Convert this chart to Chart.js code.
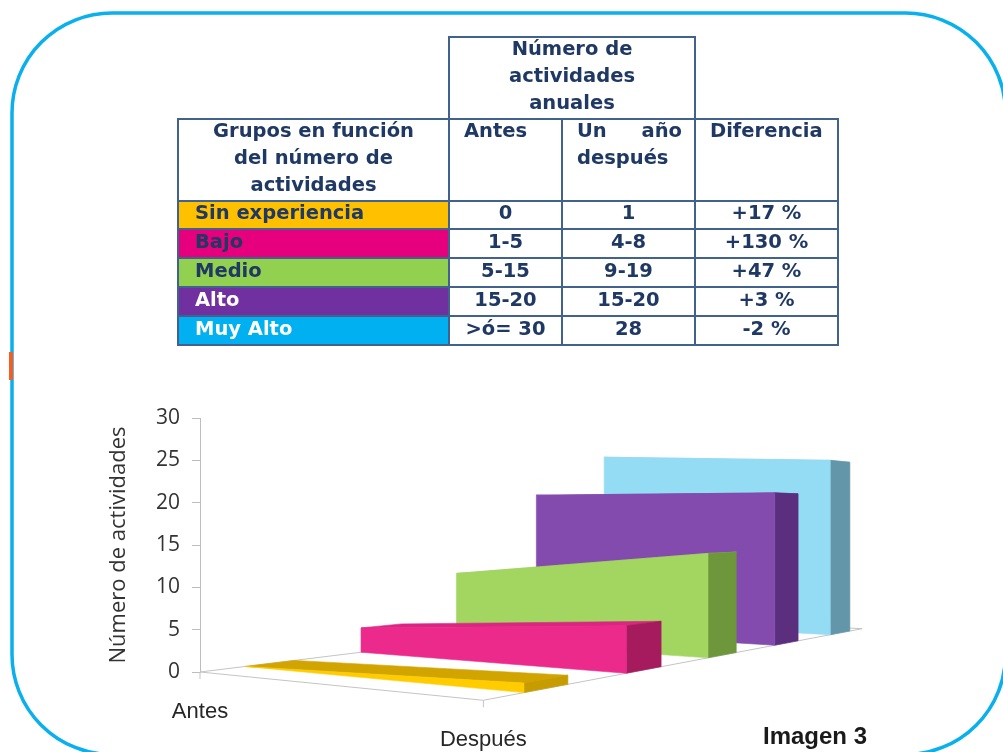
<!DOCTYPE html>
<html>
<head>
<meta charset="utf-8">
<script src="https://cdn.jsdelivr.net/npm/chart.js@4/dist/chart.umd.min.js"></script>
<style>
  html, body { margin:0; padding:0; background:#fff; width:1003px; height:752px; overflow:hidden; }
  #frame { position:absolute; left:0; top:0; overflow:hidden; }
  #mark { position:absolute; left:9px; top:352px; width:4px; height:28px; background:#FF5A1E; }
  #c { position:absolute; left:0; top:0; }
  #tbl { position:absolute; left:177px; top:36px; width:660px; border-collapse:collapse; table-layout:fixed;
         font-family:"DejaVu Sans", sans-serif; font-weight:bold; font-size:19.5px; line-height:27px; color:#1F3864; }
  #tbl td { border:2px solid #41618F; padding:0; }
  #tbl td.blank { border:none; }
  #tbl tr.r0 { height:82px; }
  #tbl tr.r1 { height:82px; }
  #tbl td.hd0 { text-align:center; vertical-align:middle; }
  #tbl td.hd0 .up6 { margin-top:-6px; }
  #tbl td.grp { text-align:center; vertical-align:top; }
  #tbl td.hl { text-align:left; vertical-align:top; padding-left:14px; }
  #tbl td.hj { text-align:justify; vertical-align:top; padding:0 12px 0 14px; }
  #tbl td .up { margin-top:-3px; }
  #tbl td.name { text-align:left; padding:0 0 4px 16px; vertical-align:middle; line-height:22px; }
  #tbl td.val { text-align:center; vertical-align:middle; padding:0 0 4px 0; line-height:22px; }
  #img3 { position:absolute; left:763px; top:722px; font-family:"Liberation Sans", Arial, sans-serif; font-weight:bold; font-size:24px; color:#1a1a1a; }
</style>
</head>
<body>
<svg id="frame" width="1003" height="752"><rect x="12" y="13" width="993.5" height="741.5" rx="100" ry="100" fill="none" stroke="#0AB0EE" stroke-width="3.5"/></svg>
<div id="mark"></div>
<canvas id="c" width="1003" height="752"></canvas>
<table id="tbl">
  <colgroup><col style="width:271px"><col style="width:113px"><col style="width:133px"><col style="width:143px"></colgroup>
  <tbody id="tb"></tbody>
</table>
<div id="img3">Imagen 3</div>
<script>
// ---------- data ----------
const categories = ['Antes', 'Después'];
const groups = ['Sin experiencia', 'Bajo', 'Medio', 'Alto', 'Muy Alto'];
const antesText = ['0', '1-5', '5-15', '15-20', '>ó= 30'];
const despuesText = ['1', '4-8', '9-19', '15-20', '28'];
const diferenciaText = ['+17 %', '+130 %', '+47 %', '+3 %', '-2 %'];
const sinExperiencia = [0, 1];
const bajo = [3.3, 5.6];
const medio = [10, 13.7];
const alto = [22, 22];
const muyAlto = [29, 27.5];
const yTicks = [0, 5, 10, 15, 20, 25, 30];

// ---------- styles ----------
const cellBg = ['#FFC000', '#E6007E', '#92D050', '#7030A0', '#00B0F0'];
const cellFg = ['#1F3864', '#1F3864', '#1F3864', '#FFFFFF', '#FFFFFF'];
const frontCol = ['#FFCC00', '#EC2A8B', '#A2D661', '#844BAF', '#93DCF4'];
const sideCol  = ['#C79C00', '#A61A5E', '#6E973C', '#5B2E7E', '#6496AA'];
const topCol   = ['#D2A400', '#DA2582', '#94C656', '#7A44A3', '#88D0E8'];

// ---------- table ----------
(function buildTable(){
  const tb = document.getElementById('tb');
  let html = '<tr class="r0"><td class="blank"></td><td colspan="2" class="hd0"><div class="up6">Número de<br>actividades<br>anuales</div></td><td class="blank"></td></tr>';
  html += '<tr class="r1"><td class="grp"><div class="up">Grupos en función<br>del número de<br>actividades</div></td><td class="hl"><div class="up">Antes</div></td><td class="hj"><div class="up">Un año después</div></td><td class="hl"><div class="up">Diferencia</div></td></tr>';
  const rh = [28, 29, 29, 29, 29];
  groups.forEach((g, i) => {
    html += '<tr style="height:' + rh[i] + 'px"><td class="name" style="background:' + cellBg[i] + ';color:' + cellFg[i] + '">' + g + '</td>' +
      '<td class="val">' + antesText[i].replace('>', '&gt;') + '</td><td class="val">' + despuesText[i] + '</td><td class="val">' + diferenciaText[i] + '</td></tr>';
  });
  tb.innerHTML = html;
})();

// ---------- 3D projection (perspective of the floor / depth) ----------
const W0 = 0.337, THICK = 0.4, FLOOR_W = 5.0;
const CU = -0.1515, CW = 0.1121, DWX = 138.5, DYU = 24, DYW = -17;

function projector(chart) {
  const xs = chart.scales.x, ys = chart.scales.y;
  const ox = xs.left, oy = ys.getPixelForValue(0), span = xs.right - xs.left;
  return function (px, w, hp) {
    const u = px / span;
    const q = 1 + CU * u + CW * w;
    return [ox + (px * (1 + CU) + DWX * w) / q, oy + (DYU * u + DYW * w - hp) / q];
  };
}

function poly(ctx, pts, fill) {
  ctx.beginPath();
  ctx.moveTo(pts[0][0], pts[0][1]);
  for (let i = 1; i < pts.length; i++) ctx.lineTo(pts[i][0], pts[i][1]);
  ctx.closePath();
  ctx.fillStyle = fill;
  ctx.fill();
  ctx.strokeStyle = fill;
  ctx.lineWidth = 0.6;
  ctx.stroke();
}

const area3D = {
  id: 'area3D',
  beforeDatasetsDraw(chart) {
    const P = projector(chart);
    const ctx = chart.ctx, xs = chart.scales.x;
    const span = xs.right - xs.left;
    const c = [P(0, 0, 0), P(span, 0, 0), P(span, FLOOR_W, 0), P(0, FLOOR_W, 0)];
    ctx.save();
    ctx.strokeStyle = '#C4C4C4';
    ctx.lineWidth = 1;
    ctx.beginPath();
    ctx.moveTo(c[3][0], c[3][1]); ctx.lineTo(c[0][0], c[0][1]); ctx.lineTo(c[1][0], c[1][1]);
    ctx.lineTo(c[2][0], c[2][1]); ctx.lineTo(c[3][0], c[3][1]);
    ctx.stroke();
    categories.forEach((lab, i) => {
      const p = P(xs.getPixelForValue(i) - xs.left, 0, 0);
      ctx.beginPath(); ctx.moveTo(p[0], p[1]); ctx.lineTo(p[0], p[1] + 7); ctx.stroke();
    });
    ctx.restore();
  },
  afterDatasetsDraw(chart) {
    const P = projector(chart);
    const ctx = chart.ctx, xs = chart.scales.x, ys = chart.scales.y;
    const oy = ys.getPixelForValue(0);
    ctx.save();
    const n = chart.data.datasets.length;
    for (let d = n - 1; d >= 0; d--) {
      const pts = chart.getDatasetMeta(d).data;
      const a = pts[0].x - xs.left, b = pts[1].x - xs.left;
      const h0 = oy - pts[0].y, h1 = oy - pts[1].y;
      const wf = W0 + d, wb = wf + THICK;
      const F0b = P(a, wf, 0), F1b = P(b, wf, 0), F1t = P(b, wf, h1), F0t = P(a, wf, h0);
      const B0t = P(a, wb, h0), B1t = P(b, wb, h1), B1b = P(b, wb, 0);
      poly(ctx, [F0t, F1t, B1t, B0t], topCol[d]);
      poly(ctx, [F1b, B1b, B1t, F1t], sideCol[d]);
      poly(ctx, [F0b, F1b, F1t, F0t], frontCol[d]);
    }
    ctx.restore();
  },
  afterDraw(chart) {
    const P = projector(chart);
    const ctx = chart.ctx, xs = chart.scales.x;
    ctx.save();
    ctx.font = '22px "Liberation Sans", Arial, sans-serif';
    ctx.fillStyle = '#262626';
    ctx.textAlign = 'center';
    ctx.textBaseline = 'middle';
    categories.forEach((lab, i) => {
      const p = P(xs.getPixelForValue(i) - xs.left, 0, 0);
      ctx.fillText(lab, p[0], p[1] + 40);
    });
    ctx.restore();
  }
};

const seriesList = [sinExperiencia, bajo, medio, alto, muyAlto];
new Chart(document.getElementById('c'), {
  type: 'line',
  data: {
    labels: categories,
    datasets: seriesList.map((s, i) => ({
      label: groups[i], data: s, showLine: false, pointRadius: 0, borderWidth: 0,
      backgroundColor: frontCol[i], borderColor: frontCol[i]
    }))
  },
  options: {
    responsive: false, animation: false,
    layout: { padding: { left: 106, top: 418, right: 519.6, bottom: 80 } },
    plugins: { legend: { display: false }, tooltip: { enabled: false } },
    scales: {
      x: { display: false },
      y: {
        min: 0, max: 30,
        afterFit(s) { s.width = 94; },
        afterBuildTicks(s) { s.ticks = yTicks.map(v => ({ value: v })); },
        ticks: { font: { family: '"Open Sans", sans-serif', size: 21 }, color: '#333333', padding: 12 },
        grid: { drawOnChartArea: false, tickLength: 8, color: '#BDBDBD' },
        border: { color: '#BDBDBD' },
        title: { display: true, text: 'Número de actividades', color: '#333333',
                 font: { family: '"Open Sans", sans-serif', size: 22 }, padding: 0 }
      }
    }
  },
  plugins: [area3D]
});
</script>
</body>
</html>
